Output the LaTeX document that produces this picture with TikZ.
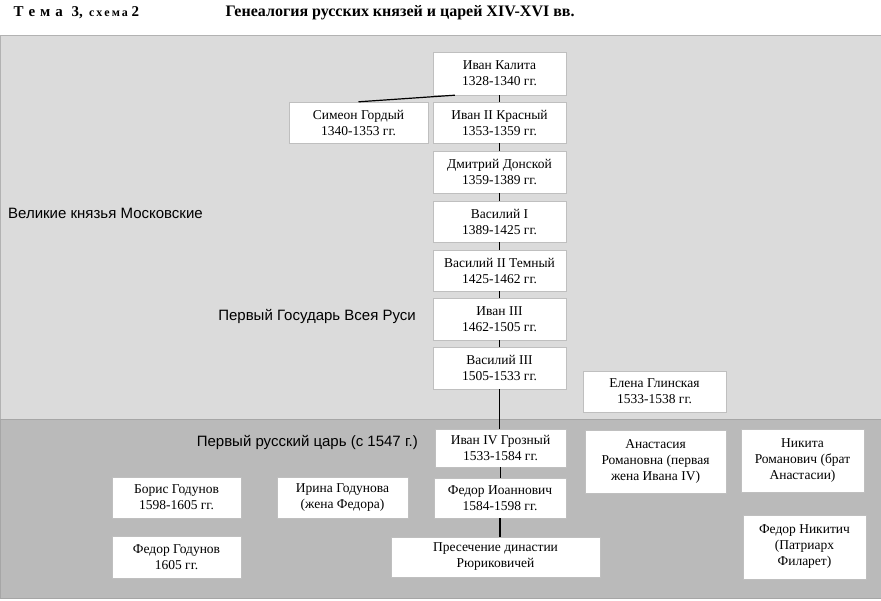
\documentclass[tikz,border=0pt]{standalone}
\usepackage{fontspec}
\setmainfont{Liberation Serif}
\newfontfamily\sans{Liberation Sans}
\begin{document}
\begin{tikzpicture}[x=1pt,y=-1pt,
 box/.style={draw=black!25,fill=white,inner sep=0pt,font=\fontsize{13.5}{16}\selectfont,align=center},
 lab/.style={font=\sans\fontsize{15}{17}\selectfont,inner sep=0pt},
 ln/.style={line width=1.2pt}]
\useasboundingbox (0,0) rectangle (881,600);
\fill[white] (0,0) rectangle (881,600);
\fill[black!14,draw=black!30] (0,35) rectangle (881,419);
\fill[black!27,draw=black!35] (0,419) rectangle (881,598);
\node[anchor=west,font=\bfseries\fontsize{15}{17}\selectfont] (t1) at (10,13) {Т\,\,е\,\,м\,\,а\,\, 3, \,{\fontsize{12}{14}\selectfont с\,х\,е\,м\,а} 2};
\node[anchor=west,font=\bfseries\fontsize{16}{18}\selectfont] (t2) at (222,13) {Генеалогия русских князей и царей XIV-XVI вв.};
\newcommand{\bx}[6]{\node[box,minimum width={#4-#2},minimum height={#5-#3}] (#1) at ({(#2+#4)/2},{(#3+#5)/2}) {#6};}
\bx{kal}{433}{52}{566}{95}{Иван Калита\\1328-1340 гг.}
\bx{sim}{289}{102}{428}{143}{Симеон Гордый\\1340-1353 гг.}
\bx{iv2}{433}{102}{566}{143}{Иван II Красный\\1353-1359 гг.}
\bx{dm}{433}{151}{566}{193}{Дмитрий Донской\\1359-1389 гг.}
\bx{v1}{433}{201}{566}{242}{Василий I\\1389-1425 гг.}
\bx{v2}{433}{250}{566}{291}{Василий II Темный\\1425-1462 гг.}
\bx{i3}{433}{298}{566}{340}{Иван III\\1462-1505 гг.}
\bx{v3}{433}{347}{566}{389}{Василий III\\1505-1533 гг.}
\bx{el}{583}{371}{726}{412}{Елена Глинская\\1533-1538 гг.}
\bx{i4}{435}{429}{566}{467}{Иван IV Грозный\\1533-1584 гг.}
\bx{an}{585}{430}{726}{493}{Анастасия\\Романовна (первая\\жена Ивана IV)}
\bx{nik}{741}{429}{864}{492}{Никита\\Романович (брат\\Анастасии)}
\bx{fi}{434}{478}{566}{518}{Федор Иоаннович\\1584-1598 гг.}
\bx{pr}{391}{537}{600}{577}{Пресечение династии\\Рюриковичей}
\bx{fn}{743}{515}{866}{579}{Федор Никитич\\(Патриарх\\Филарет)}
\bx{ir}{277}{477}{408}{518}{Ирина Годунова\\(жена Федора)}
\bx{bg}{112}{477}{241}{518}{Борис Годунов\\1598-1605 гг.}
\bx{fg}{112}{536}{241}{578}{Федор Годунов\\1605 гг.}
\node[lab,anchor=west] (l1) at (8,213) {Великие князья Московские};
\node[lab,anchor=east] (l2) at (416,316) {Первый Государь Всея Руси};
\node[lab,anchor=east] (l3) at (418,442) {Первый русский царь (с 1547 г.)};
\draw[ln] ([xshift=22pt]kal.south west) -- (sim.north);
\foreach \a/\b in {kal/iv2,iv2/dm,dm/v1,v1/v2,v2/i3,i3/v3,v3/i4,i4/fi,fi/pr}
  \draw[ln] (\a.south) -- (\a.south |- \b.north);
\end{tikzpicture}
\end{document}
